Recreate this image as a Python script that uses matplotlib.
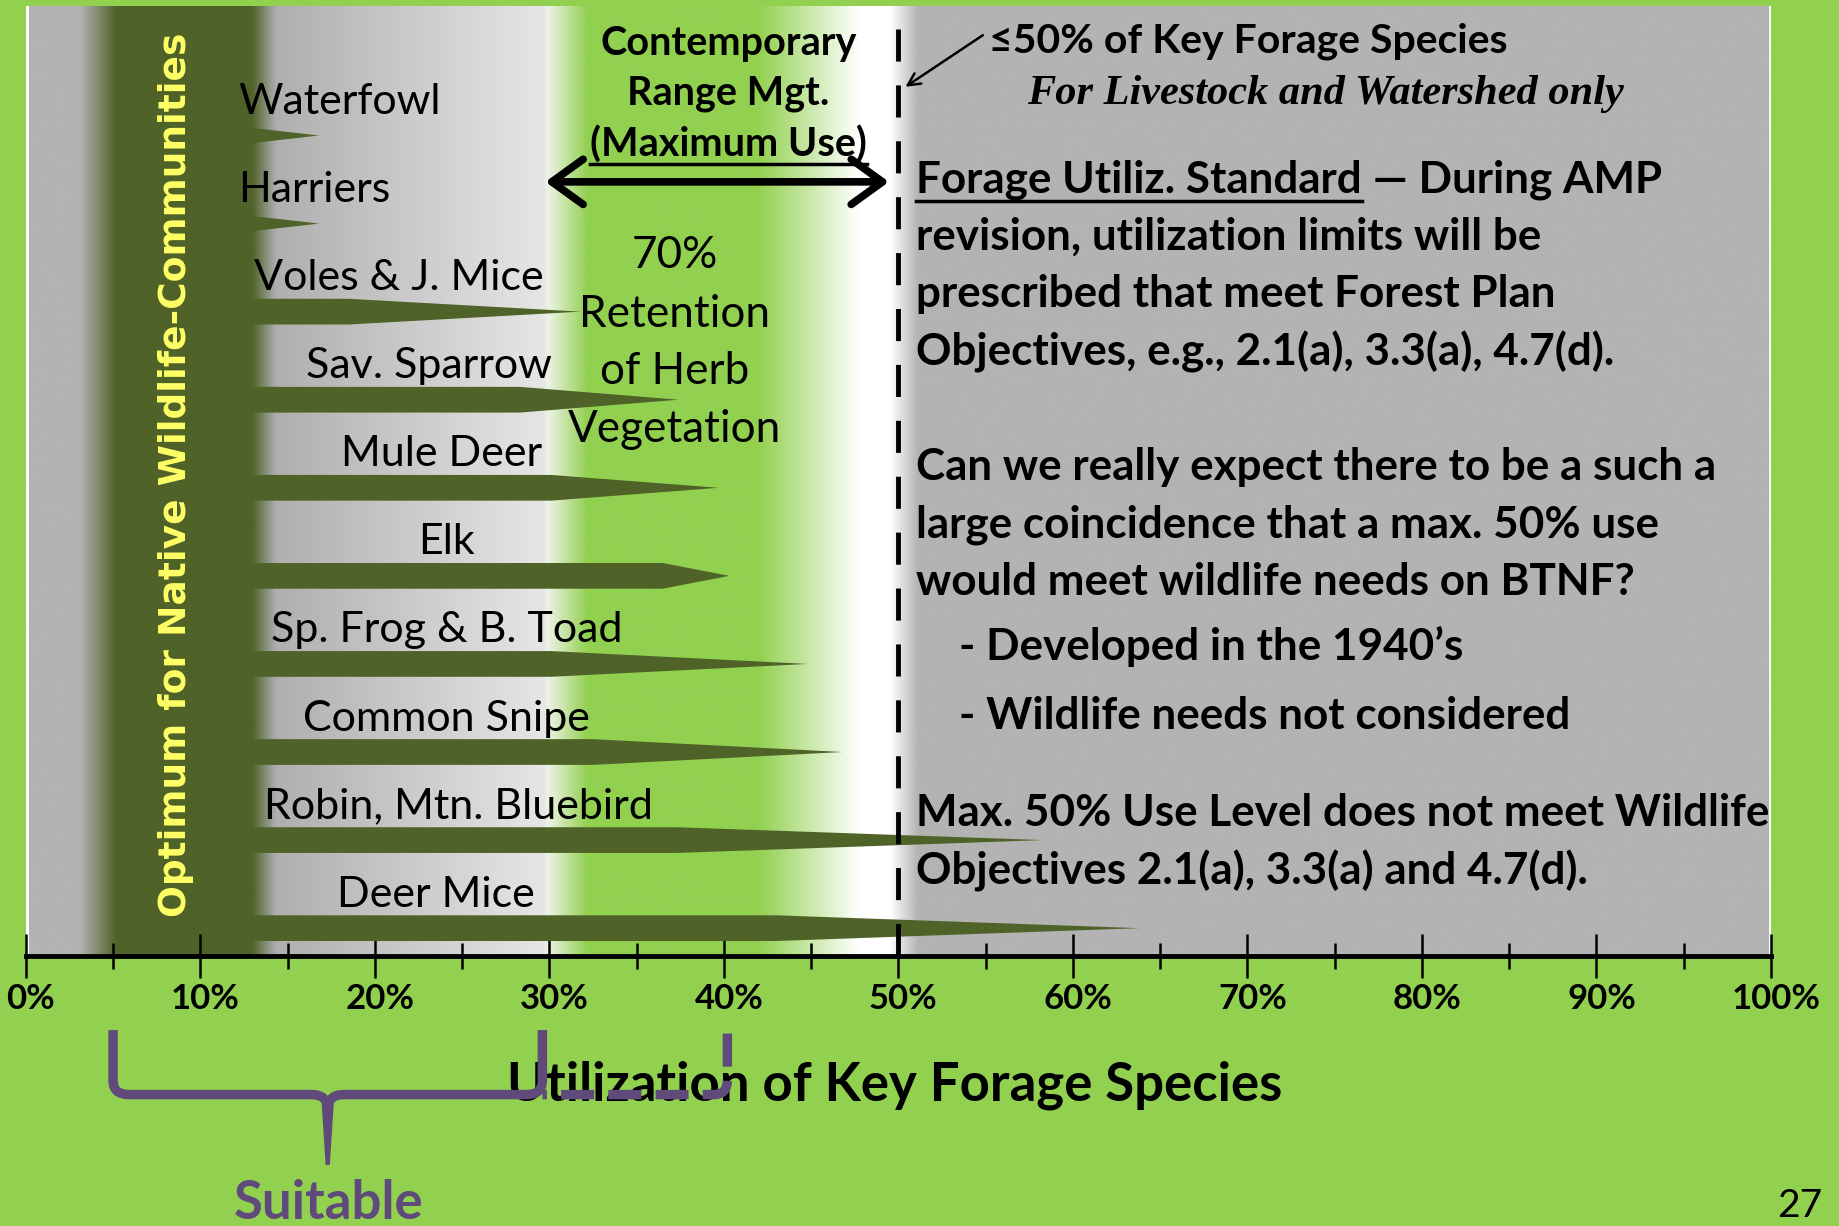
import matplotlib.pyplot as plt
import numpy as np
from matplotlib.colors import to_rgb
from matplotlib.path import Path
from matplotlib.patches import PathPatch
from matplotlib.transforms import blended_transform_factory, offset_copy

# ---- data ----
species = ["Waterfowl", "Harriers", "Voles & J. Mice", "Sav. Sparrow", "Mule Deer", "Elk",
           "Sp. Frog & B. Toad", "Common Snipe", "Robin, Mtn. Bluebird", "Deer Mice"]
# % utilization where the full-width part of each bar stops, and where the taper ends
bar_full = [12.8, 12.8, 18.5, 28.3, 30.1, 36.5, 30.1, 32.5, 37.3, 43.0]
bar_tip = [16.8, 16.8, 31.8, 37.4, 39.7, 40.3, 44.8, 46.8, 58.3, 63.8]
ticks = list(range(0, 101, 10))
tick_labels = [f"{t}%" for t in ticks]
minor_ticks = list(range(5, 100, 10))

right_lines = [
    "revision, utilization limits will be",
    "prescribed that meet Forest Plan",
    "Objectives, e.g., 2.1(a), 3.3(a), 4.7(d).",
    "",
    "Can we really expect there to be a such a",
    "large coincidence that a max. 50% use",
    "would meet wildlife needs on BTNF?",
]

# ---- layout / style ----
GREEN = "#92d050"
OLIVE = "#4f6228"
GRAY = "#b3b3b3"
PURPLE = "#604a7b"
FONT = ["Lato", "DejaVu Sans"]
BODY = 31.7

W, H = 1568, 1045            # overlay units (reference preview pixels)
ROW0, ROW_STEP = 115.5, 75.07
AX_TOP, AX_BOTTOM = 5, 815
X0, X100 = 22, 1510
label_x = [18.0, 16.5, 21.4, 23.1, 23.8, 24.1, 24.1, 24.1, 24.8, 23.5]


def row_of(y):
    return (y - ROW0) / ROW_STEP


fig = plt.figure(figsize=(18.39, 12.26), dpi=100)
fig.patch.set_facecolor(GREEN)
ax = fig.add_axes([X0 / W, 1 - AX_BOTTOM / H, (X100 - X0) / W, (AX_BOTTOM - AX_TOP) / H])

# background: gray, olive band, light gray, green, white, gray
stops = [(0, GRAY), (2.9, GRAY), (5.0, OLIVE), (12.8, OLIVE), (14.2, "#afafaf"),
         (29.6, "#e6e6e6"), (29.8, "#eef3e6"), (32.1, GREEN), (41.9, GREEN),
         (47.7, "#ffffff"), (49.5, "#ffffff"), (51.1, GRAY), (100, GRAY)]
xs = np.linspace(0, 100, 2000)
pos = [s[0] for s in stops]
cols = np.array([to_rgb(s[1]) for s in stops])
grad = np.stack([np.interp(xs, pos, cols[:, k]) for k in range(3)], axis=-1)[None, :, :]
ylo, yhi = row_of(AX_BOTTOM), row_of(AX_TOP)
ax.imshow(grad, extent=[0.2, 99.9, ylo, yhi], aspect="auto", interpolation="bilinear", zorder=0)
ax.set_xlim(0, 100)
ax.set_ylim(ylo, yhi)

# tapered bars
start = 12.5
for i, (full, tip) in enumerate(zip(bar_full, bar_tip)):
    h = 0.146 if full > start + 0.5 else 0.09
    ax.fill([start, full, tip, full, start], [i - h, i - h, i, i + h, i + h],
            color=OLIVE, lw=0, zorder=2)
for i, (name, lx) in enumerate(zip(species, label_x)):
    ax.text(lx, i - 0.38, name, ha="center", va="center", fontsize=31, family=FONT, zorder=3)

# 50% dashed line
ax.plot([50, 50], [(AX_BOTTOM - 25) / (AX_BOTTOM - AX_TOP), 0], transform=ax.get_xaxis_transform(),
        color="black", lw=3.5, linestyle=(0, (6.6, 4.9)), zorder=3)

ax.set_xticks(ticks)
ax.set_xticklabels(tick_labels, fontsize=25, fontweight="bold", family=FONT)
ax.set_xticks(minor_ticks, minor=True)
ax.tick_params(axis="x", which="major", direction="inout", length=32, width=1.8, pad=3)
ax.tick_params(axis="x", which="minor", direction="inout", length=19, width=1.8)
for lbl in ax.get_xticklabels():
    lbl.set_transform(offset_copy(lbl.get_transform(), fig=fig, x=5, units="dots"))
ax.set_yticks([])
for s in ["top", "left", "right"]:
    ax.spines[s].set_visible(False)
ax.spines["bottom"].set_linewidth(3.5)

# overlay for the slide annotations
ov = fig.add_axes([0, 0, 1, 1], zorder=5)
ov.set_xlim(0, W)
ov.set_ylim(H, 0)
ov.axis("off")


def underline(t, y, lw=2.5):
    fig.canvas.draw()
    bb = t.get_window_extent().transformed(ov.transData.inverted())
    ov.plot([bb.x0, bb.x1], [y, y], color="black", lw=lw)
    return bb


ov.text(150, 405, "Optimum for Native Wildlife-Communities", rotation=90, ha="center", va="center",
        color="#ffff66", fontsize=27, fontweight="bold", family="DejaVu Sans")

for y, txt in zip([37, 80], ["Contemporary", "Range Mgt."]):
    ov.text(621, y, txt, ha="center", va="center", fontsize=28.5, fontweight="bold", family=FONT)
t = ov.text(621, 123, "(Maximum Use)", ha="center", va="center", fontsize=28.5, fontweight="bold",
            family=FONT)
underline(t, 140)
ov.annotate("", xy=(758, 155), xytext=(465, 155),
            arrowprops=dict(arrowstyle="<->,head_length=0.9,head_width=0.65", lw=5.5, color="black",
                            mutation_scale=25, shrinkA=0, shrinkB=0))

for y, txt in zip([218, 268, 317, 366], ["70%", "Retention", "of Herb", "Vegetation"]):
    ov.text(575, y, txt, ha="center", va="center", fontsize=BODY, family=FONT)

ov.text(843, 35, "≤50% of Key Forage Species", ha="left", va="center", fontsize=29.5,
        fontweight="bold", family=FONT)
ov.text(1130, 80, "For Livestock and Watershed only", ha="center", va="center", fontsize=30.5,
        fontweight="bold", fontstyle="italic", family="Liberation Serif")
ov.annotate("", xy=(772, 74), xytext=(838, 30),
            arrowprops=dict(arrowstyle="->", lw=1.8, color="black", mutation_scale=22,
                            shrinkA=0, shrinkB=0))

t = ov.text(781, 153, "Forage Utiliz. Standard", ha="left", va="center", fontsize=BODY,
            fontweight="bold", family=FONT)
bb = underline(t, 171)
ov.text(bb.x1, 153, " — During AMP", ha="left", va="center", fontsize=BODY, fontweight="bold",
        family=FONT)
for k, txt in enumerate(right_lines):
    ov.text(781, 202 + 49 * k, txt, ha="left", va="center", fontsize=BODY, fontweight="bold",
            family=FONT)
ov.text(818, 551, "- Developed in the 1940’s", ha="left", va="center", fontsize=BODY,
        fontweight="bold", family=FONT)
ov.text(818, 610, "- Wildlife needs not considered", ha="left", va="center", fontsize=BODY,
        fontweight="bold", family=FONT)
ov.text(781, 693, "Max. 50% Use Level does not meet Wildlife", ha="left", va="center", fontsize=BODY,
        fontweight="bold", family=FONT)
ov.text(781, 742, "Objectives 2.1(a), 3.3(a) and 4.7(d).", ha="left", va="center", fontsize=BODY,
        fontweight="bold", family=FONT)

ov.text(763, 925, "Utilization of Key Forage Species", ha="center", va="center", fontsize=38,
        fontweight="bold", family=FONT)

# purple brace under the axis (x in %, y in overlay units)
bt = blended_transform_factory(ax.transData, ov.transData)
M, L, C = Path.MOVETO, Path.LINETO, Path.CURVE3
brace = Path([(5.0, 878), (5.0, 921), (5.0, 933), (5.9, 933), (16.4, 933), (17.3, 933), (17.3, 946),
              (17.3, 946), (17.3, 933), (18.2, 933), (28.7, 933), (29.6, 933), (29.6, 921), (29.6, 878)],
             [M, L, C, C, L, C, C, M, C, C, L, C, C, L])
ov.add_patch(PathPatch(brace, transform=bt, fill=False, edgecolor=PURPLE, lw=6.8, clip_on=False, zorder=6))
ov.fill([16.95, 17.65, 17.42, 17.18], [940, 940, 993, 993], transform=bt, color=PURPLE, lw=0,
        clip_on=False, zorder=6)
ext = Path([(40.2, 881), (40.2, 921), (40.2, 933), (39.4, 933), (29.6, 933)], [M, L, C, C, L])
ov.add_patch(PathPatch(ext, transform=bt, fill=False, edgecolor=PURPLE, lw=6.8, clip_on=False,
                       linestyle=(0, (3.5, 1.5)), zorder=6))
ov.text(280, 1026, "Suitable", ha="center", va="center", fontsize=38, fontweight="bold",
        color=PURPLE, family=FONT)
ov.text(1515, 1043, "27", ha="left", va="bottom", fontsize=28, family=FONT)

fig.savefig("out.png", dpi=100, facecolor=GREEN)
